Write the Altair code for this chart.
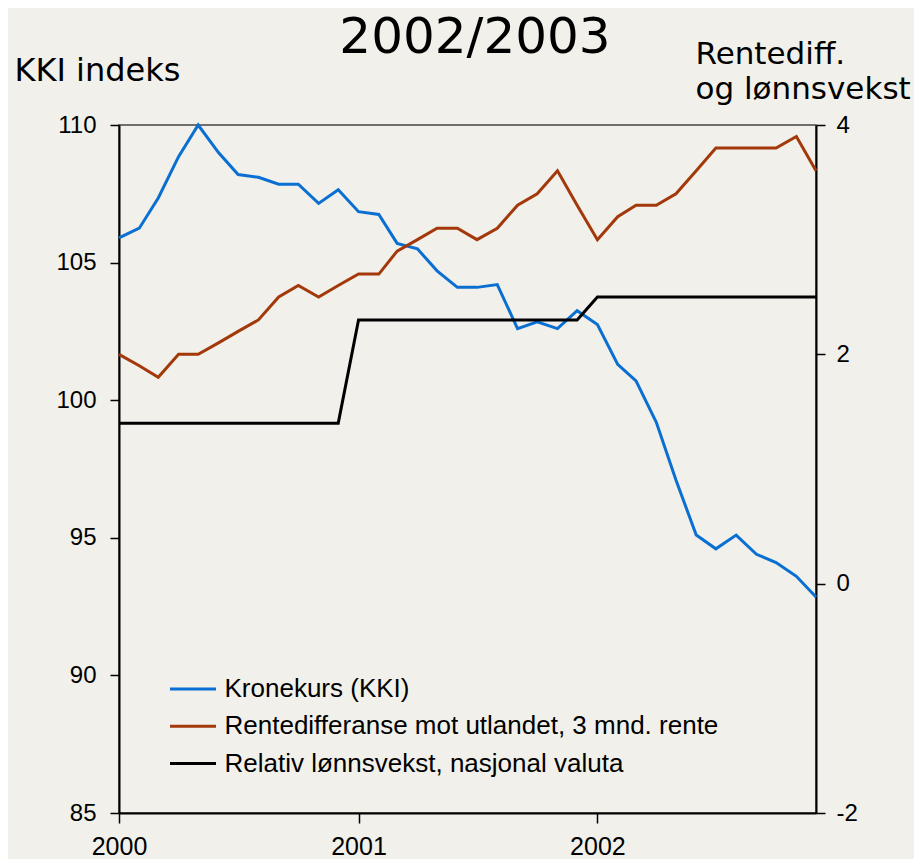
import altair as alt
import pandas as pd

months = [f"{y}-{m:02d}-01" for y in (2000, 2001, 2002) for m in range(1, 13)]

kki = [105.9, 106.25, 107.35, 108.85, 110.0, 109.0, 108.2, 108.1, 107.85, 107.85, 107.15, 107.65,
       106.85, 106.75, 105.7, 105.5, 104.7, 104.1, 104.1, 104.2, 102.6, 102.85, 102.6, 103.25,
       102.75, 101.3, 100.7, 99.2, 97.1, 95.1, 94.6, 95.1, 94.4, 94.1, 93.6, 92.85]

rente = [2.0, 1.9, 1.8, 2.0, 2.0, 2.1, 2.2, 2.3, 2.5, 2.6, 2.5, 2.6,
         2.7, 2.7, 2.9, 3.0, 3.1, 3.1, 3.0, 3.1, 3.3, 3.4, 3.6, 3.3,
         3.0, 3.2, 3.3, 3.3, 3.4, 3.6, 3.8, 3.8, 3.8, 3.8, 3.9, 3.6]

lonn = [1.4, 1.4, 1.4, 1.4, 1.4, 1.4, 1.4, 1.4, 1.4, 1.4, 1.4, 1.4,
        2.3, 2.3, 2.3, 2.3, 2.3, 2.3, 2.3, 2.3, 2.3, 2.3, 2.3, 2.3,
        2.5, 2.5, 2.5, 2.5, 2.5, 2.5, 2.5, 2.5, 2.5, 2.5, 2.5, 2.5]

series_names = ["Kronekurs (KKI)",
                "Rentedifferanse mot utlandet, 3 mnd. rente",
                "Relativ lønnsvekst, nasjonal valuta"]
series_colors = ["#0A6FD2", "#A3390B", "#000000"]

left_ticks = [85, 90, 95, 100, 105, 110]
right_ticks = [-2, 0, 2, 4]
chart_title = ["2002/2003"]

df_left = pd.DataFrame({"date": months, "value": kki, "series": series_names[0]})
df_right = pd.concat([
    pd.DataFrame({"date": months, "value": rente, "series": series_names[1]}),
    pd.DataFrame({"date": months, "value": lonn, "series": series_names[2]}),
])

x_enc = alt.X("date:T",
              scale=alt.Scale(type="utc", domain=["2000-01-01", "2002-12-01"]),
              axis=alt.Axis(title=None, tickCount={"interval": "year", "step": 1},
                            format="%Y", formatType="utc", grid=False,
                            labelFlush=False, labelOverlap=False,
                            labelFont="Liberation Sans", labelFontSize=25,
                            labelColor="#000", labelPadding=11, tickSize=10,
                            tickColor="#000", tickWidth=1.5,
                            domainColor="#000", domainWidth=2))

color_enc = alt.Color("series:N",
                      scale=alt.Scale(domain=series_names, range=series_colors),
                      legend=alt.Legend(title=None, orient="none", legendX=49.5, legendY=551,
                                        symbolType="stroke", symbolSize=2116,
                                        symbolStrokeWidth=3, labelFont="Liberation Sans",
                                        labelFontSize=26, labelColor="#000", labelOffset=7,
                                        padding=0, clipHeight=26, rowPadding=11.3,
                                        labelLimit=600))

left = alt.Chart(df_left).mark_line(strokeWidth=3).encode(
    x=x_enc,
    y=alt.Y("value:Q",
            scale=alt.Scale(domain=[85, 110], nice=False, zero=False),
            axis=alt.Axis(orient="left", values=left_ticks, grid=False,
                          title="KKI indeks", titleAngle=0, titleAlign="left",
                          titleBaseline="alphabetic", titleX=-105, titleY=-45,
                          titleFont="DejaVu Sans", titleFontSize=32,
                          titleFontWeight="normal", titleColor="#000",
                          labelFont="Liberation Sans", labelFontSize=24,
                          labelColor="#000", labelPadding=14, tickSize=9,
                          tickColor="#000", tickWidth=1.5,
                          domainColor="#000", domainWidth=2)),
    color=color_enc,
)

right = alt.Chart(df_right).mark_line(strokeWidth=3).encode(
    x=x_enc,
    y=alt.Y("value:Q",
            scale=alt.Scale(domain=[-2, 4], nice=False, zero=False),
            axis=alt.Axis(orient="right", values=right_ticks, grid=False,
                          labelExpr="replace(datum.label, '−', '-')",
                          title=["Rentediff.", "og lønnsvekst"], titleAngle=0,
                          titleAlign="left", titleBaseline="alphabetic",
                          titleX=-121, titleY=-62, titleLineHeight=35,
                          titleFont="DejaVu Sans", titleFontSize=31,
                          titleFontWeight="normal", titleColor="#000",
                          labelFont="Liberation Sans", labelFontSize=24,
                          labelColor="#000", labelPadding=11, tickSize=9,
                          tickColor="#000", tickWidth=1.5,
                          domainColor="#000", domainWidth=2)),
    color=color_enc,
)

title_layer = alt.Chart(pd.DataFrame({"t": chart_title})).mark_text(
    font="DejaVu Sans", fontSize=50, color="#000", align="center",
    baseline="alphabetic", clip=False,
).encode(text="t:N", x=alt.value(356), y=alt.value(-72))

chart = alt.layer(left, right, title_layer).resolve_scale(y="independent").properties(
    width=697, height=688,
    autosize=alt.AutoSizeParams(type="none"),
    padding={"left": 111, "top": 117, "right": 98, "bottom": 46},
).configure(background="#F1F0EA").configure_view(stroke="#444444", strokeWidth=1.5)

chart.save("out.html", embed_options={"renderer": "svg", "actions": False})
